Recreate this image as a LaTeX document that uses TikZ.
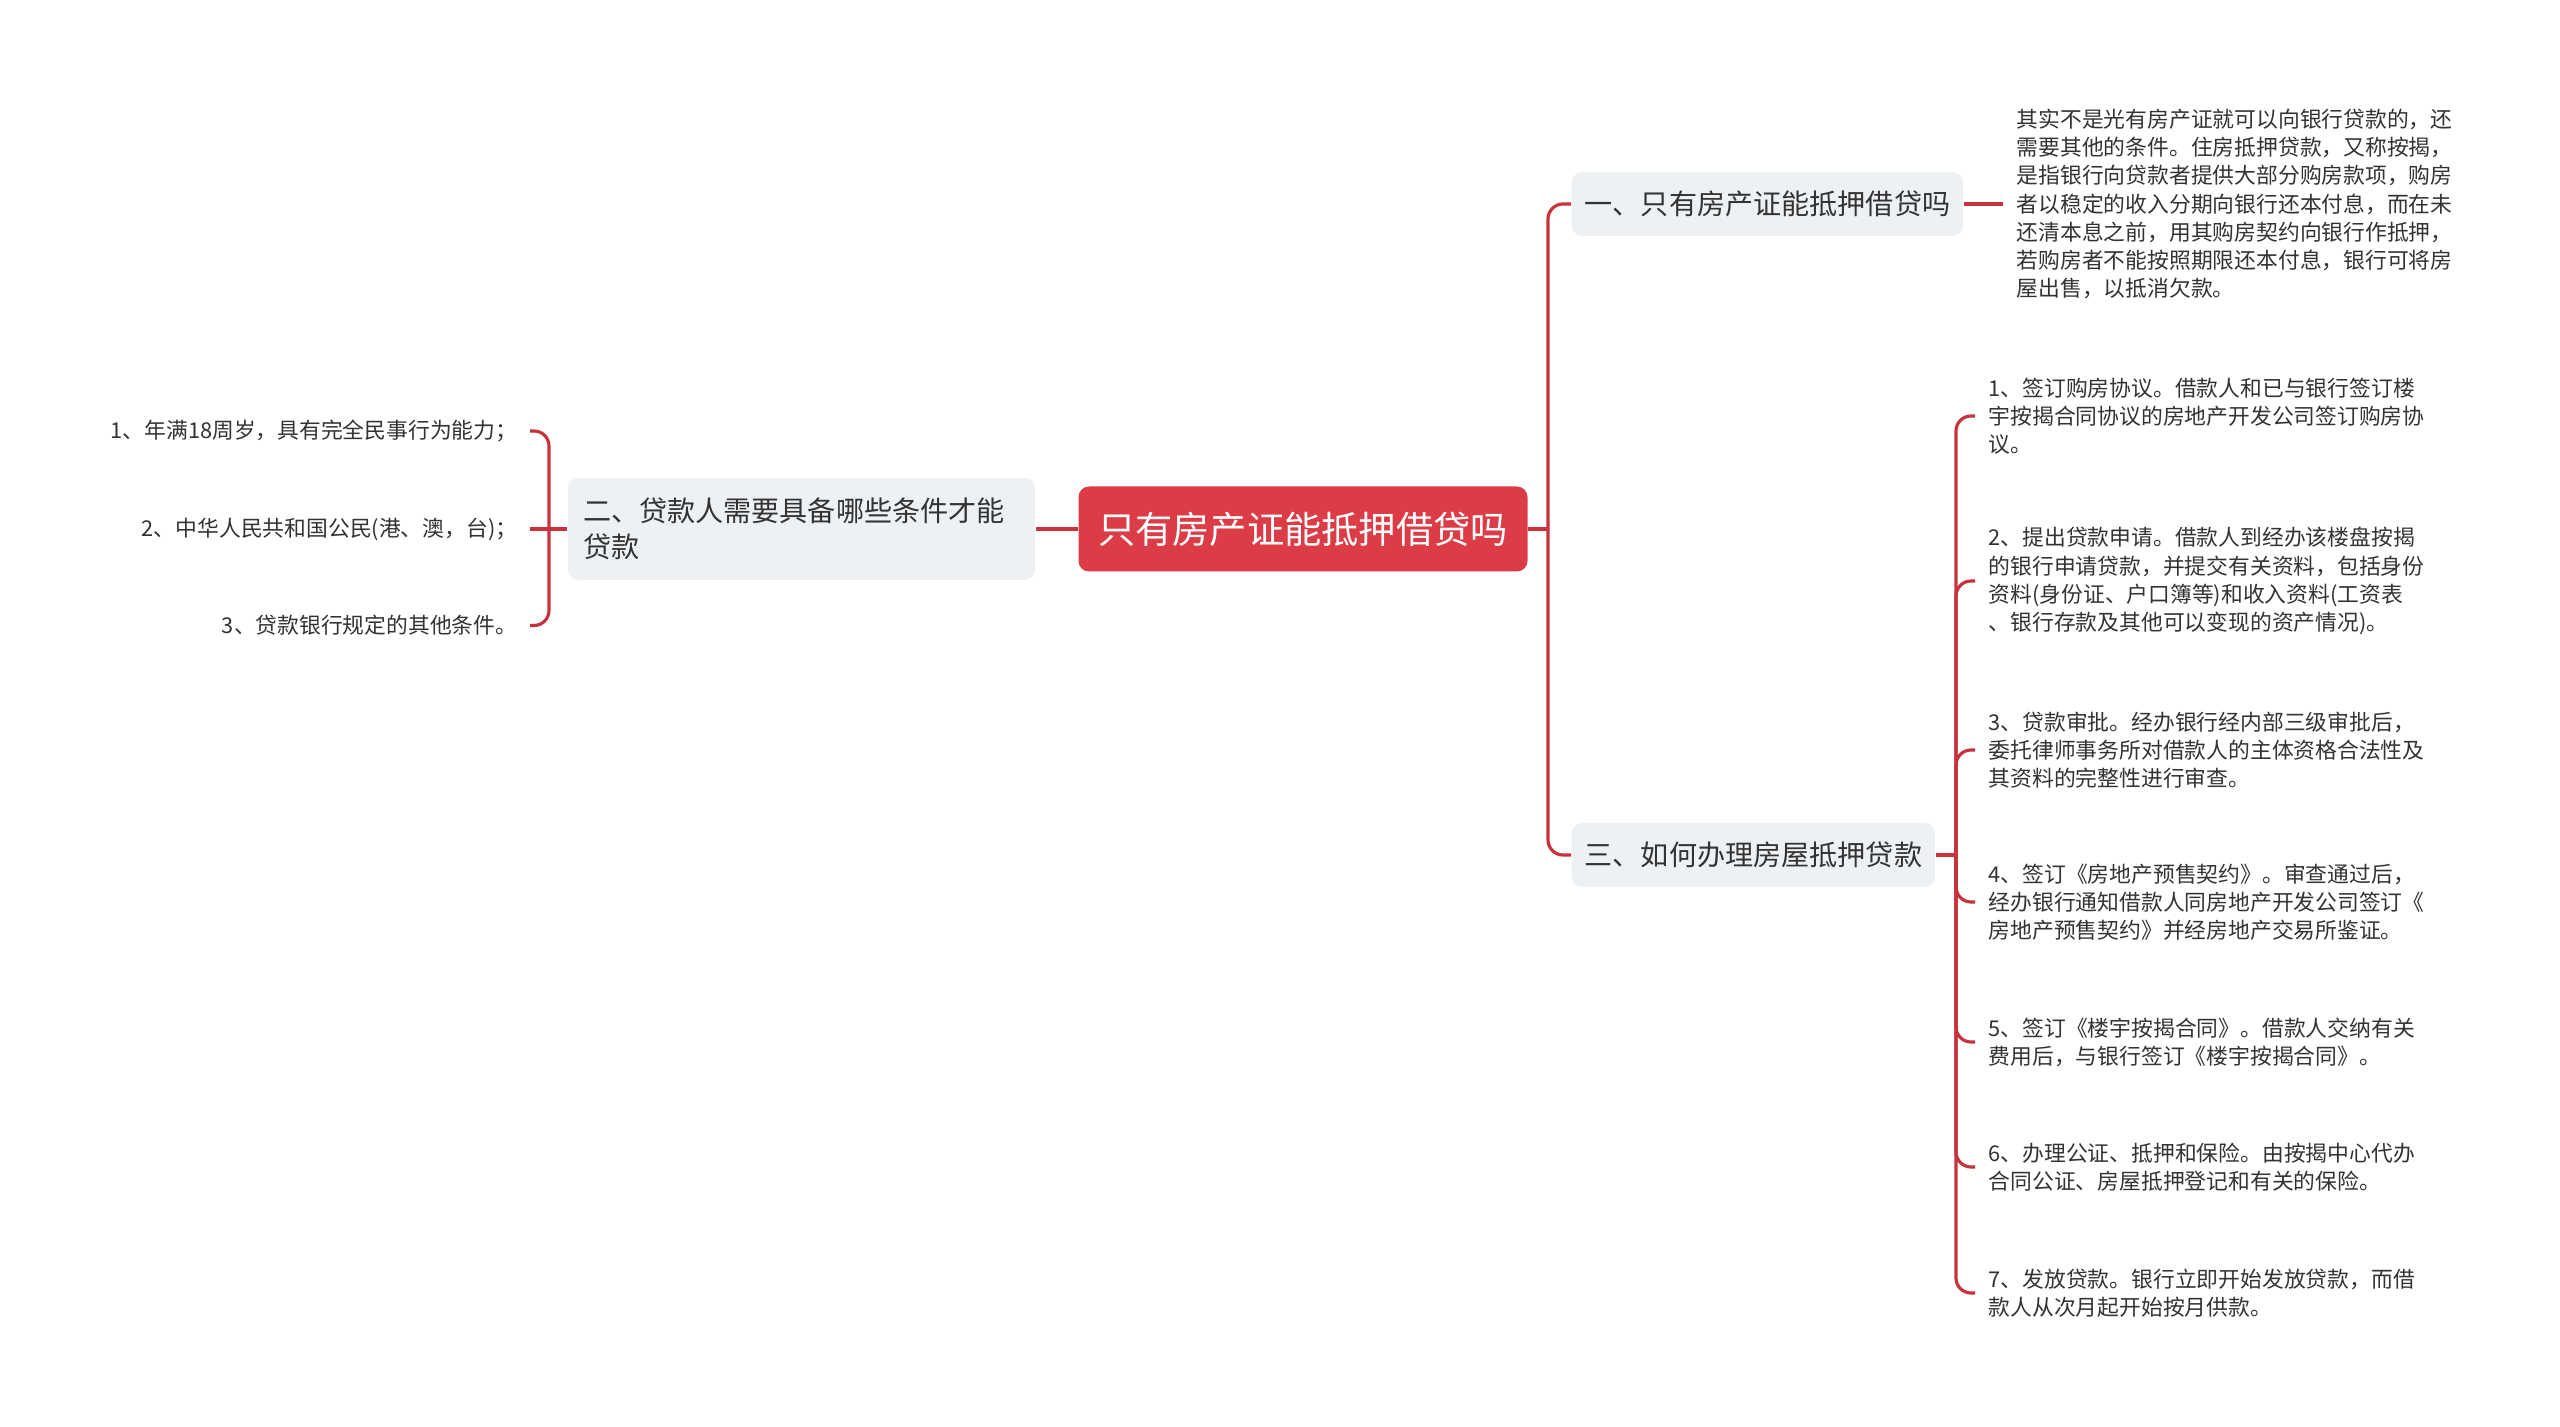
\documentclass[tikz,border=0pt]{standalone}
\usepackage{fontspec}
\setmainfont{Noto Sans CJK SC}
\usetikzlibrary{positioning}
\definecolor{mapred}{RGB}{220,60,70}
\definecolor{linered}{RGB}{200,50,60}
\definecolor{boxgray}{RGB}{238,241,244}
\definecolor{txtgray}{RGB}{51,51,51}

\begin{document}
\begin{tikzpicture}[
  rootbox/.style={rectangle,fill=mapred,rounded corners=3pt,
    minimum width=4.49cm,minimum height=0.85cm,
    text=white,font=\fontsize{10.6}{12}\selectfont},
  topic/.style={rectangle,fill=boxgray,rounded corners=3pt,
    minimum height=0.64cm,inner xsep=0.13cm,
    text=txtgray,font=\fontsize{8}{10.3}\selectfont,align=left},
  leaf/.style={inner xsep=0.13cm,inner ysep=0pt,align=left,
    text=txtgray,font=\fontsize{6.2}{8}\selectfont},
  link/.style={draw=linered,line width=0.9pt,rounded corners=0.15cm}
]
  \path[use as bounding box,fill=white] (0,0) rectangle (25.6,-14.27);

  \node[rootbox] (root) at (13.03,-5.29) {只有房产证能抵押借贷吗};

  \node[topic,anchor=west] (sec1) at (15.71,-2.04) {一、只有房产证能抵押借贷吗};
  \node[topic,text width=4.37cm,minimum height=1.02cm,inner xsep=0.15cm] (sec2) at (8.015,-5.29)
    {二、贷款人需要具备哪些条件才能\\贷款};
  \node[topic,anchor=west] (sec3) at (15.71,-8.55) {三、如何办理房屋抵押贷款};

  \node[leaf,anchor=west] (note1) at (20.03,-2.04)
    {其实不是光有房产证就可以向银行贷款的，还\\
     需要其他的条件。住房抵押贷款，又称按揭，\\
     是指银行向贷款者提供大部分购房款项，购房\\
     者以稳定的收入分期向银行还本付息，而在未\\
     还清本息之前，用其购房契约向银行作抵押，\\
     若购房者不能按照期限还本付息，银行可将房\\
     屋出售，以抵消欠款。};

  \node[leaf,anchor=east,inner xsep=0.12cm] (cond1) at (5.30,-4.31) {1、年满18周岁，具有完全民事行为能力；};
  \node[leaf,anchor=east,inner xsep=0.12cm] (cond2) at (5.30,-5.29) {2、中华人民共和国公民(港、澳，台)；};
  \node[leaf,anchor=east,inner xsep=0.12cm] (cond3) at (5.30,-6.255) {3、贷款银行规定的其他条件。};

  \node[leaf,anchor=west] (st1) at (19.75,-4.16)
    {1、签订购房协议。借款人和已与银行签订楼\\
     宇按揭合同协议的房地产开发公司签订购房协\\
     议。};
  \node[leaf,anchor=west] (st2) at (19.75,-5.81)
    {2、提出贷款申请。借款人到经办该楼盘按揭\\
     的银行申请贷款，并提交有关资料，包括身份\\
     资料(身份证、户口簿等)和收入资料(工资表\\
     、银行存款及其他可以变现的资产情况)。};
  \node[leaf,anchor=west] (st3) at (19.75,-7.50)
    {3、贷款审批。经办银行经内部三级审批后，\\
     委托律师事务所对借款人的主体资格合法性及\\
     其资料的完整性进行审查。};
  \node[leaf,anchor=west] (st4) at (19.75,-9.02)
    {4、签订《房地产预售契约》。审查通过后，\\
     经办银行通知借款人同房地产开发公司签订《\\
     房地产预售契约》并经房地产交易所鉴证。};
  \node[leaf,anchor=west] (st5) at (19.75,-10.42)
    {5、签订《楼宇按揭合同》。借款人交纳有关\\
     费用后，与银行签订《楼宇按揭合同》。};
  \node[leaf,anchor=west] (st6) at (19.75,-11.67)
    {6、办理公证、抵押和保险。由按揭中心代办\\
     合同公证、房屋抵押登记和有关的保险。};
  \node[leaf,anchor=west] (st7) at (19.75,-12.93)
    {7、发放贷款。银行立即开始发放贷款，而借\\
     款人从次月起开始按月供款。};

  \coordinate (jr) at (15.48,-5.29);
  \coordinate (jl) at (5.49,-5.29);
  \coordinate (j3) at (19.56,-8.55);

  \draw[link] (root.east) -- (jr);
  \draw[link] (jr) |- (sec1.west);
  \draw[link] (jr) |- (sec3.west);
  \draw[link] (root.west) -- (sec2.east);
  \draw[link] (sec2.west) -- (cond2.east);
  \draw[link] (jl) |- (cond1.east);
  \draw[link] (jl) |- (cond3.east);
  \draw[link] (sec1.east) -- (note1.west);
  \draw[link] (sec3.east) -- (j3);
  \foreach \s in {st1,st2,st3,st4,st5,st6,st7}
    \draw[link] (j3) |- (\s.west);
\end{tikzpicture}
\end{document}
